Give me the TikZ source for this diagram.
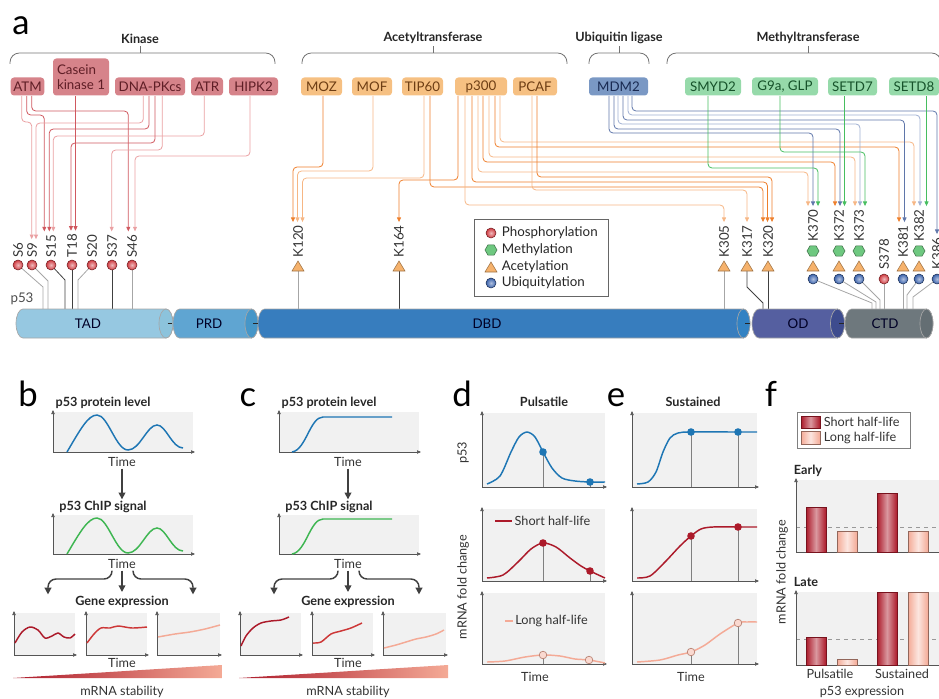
\documentclass[tikz,border=0pt]{standalone}
\usepackage{fontspec}
\setmainfont{Lato}
\usetikzlibrary{arrows.meta}

\definecolor{kinfill}{RGB}{214,131,138}
\definecolor{kintext}{RGB}{95,30,38}
\definecolor{kinline}{RGB}{208,88,95}
\definecolor{kinpale}{RGB}{234,160,162}
\definecolor{acefill}{RGB}{246,192,130}
\definecolor{acetext}{RGB}{110,62,20}
\definecolor{aceline}{RGB}{238,126,42}
\definecolor{acepale}{RGB}{246,182,132}
\definecolor{ubifill}{RGB}{122,152,196}
\definecolor{ubitext}{RGB}{25,42,82}
\definecolor{ubiline}{RGB}{95,118,170}
\definecolor{ubipale}{RGB}{160,176,210}
\definecolor{metfill}{RGB}{150,218,170}
\definecolor{mettext}{RGB}{22,82,42}
\definecolor{metline}{RGB}{70,190,95}
\definecolor{phos}{RGB}{208,58,64}
\definecolor{ubiq}{RGB}{58,98,172}
\definecolor{methyl}{RGB}{110,200,128}
\definecolor{acetyl}{RGB}{246,178,108}
\definecolor{plotbg}{RGB}{241,241,241}
\definecolor{pblue}{RGB}{30,118,180}
\definecolor{pgreen}{RGB}{62,182,82}
\definecolor{shortred}{RGB}{172,26,42}
\definecolor{midred}{RGB}{205,55,55}
\definecolor{longpink}{RGB}{244,170,150}
\definecolor{axisgray}{RGB}{85,85,85}
% protein domains: 1 edge, 2 middle, 3 cap
\definecolor{tad1}{RGB}{150,200,225}\definecolor{tad2}{RGB}{208,234,246}\definecolor{tad3}{RGB}{140,195,220}
\definecolor{prd1}{RGB}{95,165,210}\definecolor{prd2}{RGB}{165,212,236}\definecolor{prd3}{RGB}{70,150,200}
\definecolor{dbd1}{RGB}{55,125,190}\definecolor{dbd2}{RGB}{128,182,226}\definecolor{dbd3}{RGB}{50,130,195}
\definecolor{od1}{RGB}{85,95,160}\definecolor{od2}{RGB}{145,155,208}\definecolor{od3}{RGB}{62,76,142}
\definecolor{ctd1}{RGB}{110,120,125}\definecolor{ctd2}{RGB}{172,180,184}\definecolor{ctd3}{RGB}{100,110,115}

\tikzset{every picture/.style={line width=0.75pt}}
\tikzset{
  txt/.style={font=\fontsize{10}{12}\selectfont, inner sep=1pt, text=black!85},
  small/.style={font=\fontsize{9.5}{11}\selectfont, inner sep=1pt, text=black!80},
  ttl/.style={font=\bfseries\fontsize{9.5}{11}\selectfont, inner sep=1pt, text=black!85},
  grp/.style={font=\bfseries\fontsize{9.5}{11}\selectfont, inner sep=1.5pt, text=black!85, above},
  plab/.style={font=\fontsize{26}{28}\selectfont, inner sep=0pt, anchor=base},
  enz/.style={rounded corners=2.5pt, minimum height=13.5pt, inner xsep=2pt, inner ysep=1pt, anchor=south, font=\fontsize{10}{11}\selectfont},
  kinbox/.style={enz, fill=kinfill, text=kintext},
  acebox/.style={enz, fill=acefill, text=acetext},
  ubibox/.style={enz, fill=ubifill, text=ubitext},
  metbox/.style={enz, fill=metfill, text=mettext},
  brk/.style={draw=black!55, line width=0.6pt, rounded corners=7},
  site/.style={rotate=90, anchor=west, inner sep=2.2pt, font=\fontsize{10}{11}\selectfont, text=black!80},
  dom/.style={font=\fontsize{10}{11}\selectfont, text=black!75!blue!60!black},
  route/.style={line width=0.6pt, rounded corners=3, -{Triangle[length=3.5pt,width=3pt]}},
  kinr/.style={route, draw=kinline}, kinpr/.style={route, draw=kinpale},
  acer/.style={route, draw=aceline}, acepr/.style={route, draw=acepale},
  ubir/.style={route, draw=ubiline}, ubipr/.style={route, draw=ubipale},
  metr/.style={route, draw=metline},
  stem/.style={line width=0.6pt, draw=black!75}, stempale/.style={line width=0.6pt, draw=black!35},
  phosdot/.style={inner color=phos!35!white, outer color=phos, draw=phos!55!black, line width=0.4pt},
  ubidot/.style={inner color=ubiq!40!white, outer color=ubiq, draw=ubiq!50!black, line width=0.4pt},
  methex/.style={fill=methyl, draw=methyl!55!black, line width=0.4pt},
  acetri/.style={fill=acetyl, draw=acetyl!65!black, line width=0.4pt},
  axis/.style={draw=axisgray, line width=0.5pt, -{Triangle[length=3pt,width=2.5pt]}},
  flow/.style={draw=black!75, line width=1.1pt, rounded corners=6, -{Triangle[length=5pt,width=5pt]}},
  pcurve/.style={line width=1.1pt},
  dropln/.style={draw=black!50, line width=0.5pt},
  darkbar/.style={left color=shortred, right color=shortred, middle color=shortred!45!white, draw=shortred!70!black, line width=0.4pt},
  lightbar/.style={left color=longpink, right color=longpink, middle color=longpink!30!white, draw=longpink!60!black, line width=0.4pt}
}

\begin{document}
\begin{tikzpicture}[x=0.75pt,y=0.75pt,yscale=-1,xscale=1]
\useasboundingbox (0,0) rectangle (939,699);

% ---------------- panel a ----------------
\node[plab] (pa) at (21,35) {a};

% group brackets
\draw[brk] (10,64) |- (275,53) -- (275,64);
\draw[brk] (140,53) -- (140,46) node[grp] (tkin) {Kinase};
\draw[brk] (302,64) |- (567,53) -- (567,64);
\draw[brk] (433,53) -- (433,46) node[grp] (tace) {Acetyltransferase};
\draw[brk] (589,64) |- (649,53) -- (649,64);
\draw[brk] (619,53) -- (619,46) node[grp] (tubi) {Ubiquitin ligase};
\draw[brk] (667,64) |- (941,53) -- (941,64);
\draw[brk] (808,53) -- (808,46) node[grp] (tmet) {Methyltransferase};

% enzymes
\node[kinbox, minimum width=24.75pt] (atm) at (27.5,96) {ATM};
\node[kinbox, minimum width=42pt, minimum height=27.75pt, align=left] (ck1) at (81,96) {Casein\\kinase 1};
\node[kinbox, minimum width=52.5pt] (dnapk) at (150,96) {DNA-PKcs};
\node[kinbox, minimum width=24pt] (atr) at (207,96) {ATR};
\node[kinbox, minimum width=36.75pt] (hipk) at (253.5,96) {HIPK2};
\node[acebox, minimum width=30.75pt] (moz) at (321.5,96) {MOZ};
\node[acebox, minimum width=30pt] (mof) at (372,96) {MOF};
\node[acebox, minimum width=30.75pt] (tip) at (422.5,96) {TIP60};
\node[acebox, minimum width=39pt] (p300) at (481,96) {p300};
\node[acebox, minimum width=33pt] (pcaf) at (535,96) {PCAF};
\node[ubibox, minimum width=44.25pt] (mdm) at (618.5,96) {MDM2};
\node[metbox, minimum width=42pt] (smyd) at (713,96) {SMYD2};
\node[metbox, minimum width=49.5pt] (g9a) at (785,96) {G9a, GLP};
\node[metbox, minimum width=36.75pt] (setdseven) at (852.5,96) {SETD7};
\node[metbox, minimum width=37.5pt] (setdeight) at (914,96) {SETD8};

% residue labels
\foreach \nm/\x/\t in {s6/18/S6, s9/32/S9, s15/51/S15, t18/72/T18, s20/92/S20, s37/112/S37, s46/132/S46,
    k120/298/K120, k164/399/K164, k305/724/K305, k317/747/K317, k320/768/K320, k381/903/K381}
  \node[site] (l\nm) at (\x,261) {\t};
\foreach \nm/\x/\t in {k370/813/K370, k372/839/K372, k373/859/K373, k382/919/K382}
  \node[site] (l\nm) at (\x,245) {\t};
\foreach \nm/\x/\t in {s378/884/S378, k386/937/K386}
  \node[site] (l\nm) at (\x,273) {\t};

% kinase routes
\draw[kinpr] (21.7,0 |- atm.south) |- (31.7,122) -- (31.7,0 |- ls9.east);
\draw[kinr] (26.7,0 |- atm.south) |- (44.3,115) -- (44.3,0 |- ls15.east);
\draw[kinr] (31.7,0 |- atm.south) |- (128.3,111) -- (128.3,0 |- ls46.east);
\draw[kinpr] (143.3,0 |- dnapk.south) |- (36,123) -- (36,0 |- ls9.east);
\draw[kinr] (149,0 |- dnapk.south) |- (49.3,129) -- (49.3,0 |- ls15.east);
\draw[kinpr] (204.3,0 |- atr.south) |- (53.3,136) -- (53.3,0 |- ls15.east);
\draw[kinr] (155,0 |- dnapk.south) |- (71,143) -- (71,0 |- lt18.east);
\draw[kinr] (75.5,0 |- ck1.south) -- (75.5,0 |- lt18.east);
\draw[kinpr] (162.3,0 |- dnapk.south) |- (111.7,150) -- (111.7,0 |- ls37.east);
\draw[kinpr] (250,0 |- hipk.south) |- (135,156) -- (135,0 |- ls46.east);

% acetyltransferase routes
\draw[acer] (323,0 |- moz.south) |- (293,167) -- (293,0 |- lk120.east);
\draw[acepr] (373,0 |- mof.south) |- (297.5,171) -- (297.5,0 |- lk120.east);
\draw[acepr] (424,0 |- tip.south) |- (302.5,178) -- (302.5,0 |- lk120.east);
\draw[acer] (458,0 |- p300.south) |- (399,180) -- (399,0 |- lk164.east);
\draw[acer] (430,0 |- tip.south) |- (763,187) -- (763,0 |- lk320.east);
\draw[acepr] (465,0 |- p300.south) |- (724,205) -- (724,0 |- lk305.east);
\draw[acer] (472,0 |- p300.south) |- (767.5,182) -- (767.5,0 |- lk320.east);
\draw[acepr] (478,0 |- p300.south) |- (808,172) -- (808,0 |- lk370.east);
\draw[acer] (483,0 |- p300.south) |- (835,162) -- (835,0 |- lk372.east);
\draw[acepr] (489,0 |- p300.south) |- (855,157) -- (855,0 |- lk373.east);
\draw[acer] (495,0 |- p300.south) |- (899,147) -- (899,0 |- lk381.east);
\draw[acepr] (500,0 |- p300.south) |- (914,142) -- (914,0 |- lk382.east);
\draw[acepr] (532,0 |- pcaf.south) |- (747,190) -- (747,0 |- lk317.east);
\draw[acer] (537,0 |- pcaf.south) |- (772,177) -- (772,0 |- lk320.east);

% ubiquitin ligase routes
\draw[ubir] (609,0 |- mdm.south) |- (813,133) -- (813,0 |- lk370.east);
\draw[ubir] (614,0 |- mdm.south) |- (840,129) -- (840,0 |- lk372.east);
\draw[ubipr] (618,0 |- mdm.south) |- (860,124) -- (860,0 |- lk373.east);
\draw[ubir] (623,0 |- mdm.south) |- (904.5,120) -- (904.5,0 |- lk381.east);
\draw[ubipr] (628,0 |- mdm.south) |- (920,115) -- (920,0 |- lk382.east);
\draw[ubir] (632,0 |- mdm.south) |- (937,111) -- (937,0 |- lk386.east);

% methyltransferase routes
\draw[metr] (708,0 |- smyd.south) |- (818,168) -- (818,0 |- lk370.east);
\draw[metr] (780,0 |- g9a.south) |- (865,152) -- (865,0 |- lk373.east);
\draw[metr] (844.5,0 |- setdseven.south) -- (844.5,0 |- lk372.east);
\draw[metr] (926.5,0 |- setdeight.south) -- (926.5,0 |- lk382.east);

% stems down to the protein
\draw[stempale] (18,265) -- (43,287) -- (43,309);
\draw[stempale] (32,265) -- (48,281) -- (48,309);
\draw[stem] (51,265) -- (65,280) -- (65,309);
\draw[stem] (72,265) -- (72,309);
\draw[stempale] (92,265) -- (78,280) -- (78,309);
\draw[stem] (112,265) -- (112,309);
\draw[stempale] (132,265) -- (132,309);
\draw[stempale] (298,266) -- (298,309);
\draw[stem] (399,266) -- (399,309);
\draw[stempale] (724,266) -- (724,309);
\draw[stem] (747,266) -- (747,287) -- (763,303) -- (763,309);
\draw[stem] (768,266) -- (768,309);
\draw[stempale] (813,279) -- (872,303) -- (872,309);
\draw[stempale] (839,279) -- (876,302) -- (876,309);
\draw[stempale] (859,279) -- (880,300) -- (880,309);
\draw[stempale] (884,279) -- (884,309);
\draw[stempale] (903,279) -- (903,309);
\draw[stempale] (919,279) -- (907,295) -- (907,309);
\draw[stempale] (937,279) -- (913,297) -- (913,309);

% modification marks
\foreach \x in {18,32,51,72,92,112,132} \shadedraw[phosdot] (\x,265) circle (5);
\shadedraw[phosdot] (884,279) circle (5);
\foreach \x in {813,839,859,903,919,937} \shadedraw[ubidot] (\x,279) circle (5);
\foreach \x in {298,399,724,747,768,813,839,859,903,919}
  \filldraw[acetri] (\x,261) -- (\x+6,271) -- (\x-6,271) -- cycle;
\foreach \x in {813,839,859,919}
  \filldraw[methex] (\x+6,251) -- (\x+3,256.2) -- (\x-3,256.2) -- (\x-6,251) -- (\x-3,245.8) -- (\x+3,245.8) -- cycle;

% p53 domains
\node[txt, text=black!70] (p53lab) at (22,299) {p53};
\foreach \xl/\xr/\rx/\dm in {16/166/7/tad, 173/251.5/6.5/prd, 258/743.5/6.5/dbd, 752/837.5/7/od, 845/926.5/6.5/ctd}{
  \shadedraw[top color=\dm1, middle color=\dm2, bottom color=\dm1, draw=black!35, line width=0.5pt]
    (\xl+\rx,309) -- (\xr,309) arc[start angle=-90, end angle=90, x radius=\rx, y radius=14.5]
    -- (\xl+\rx,338) arc[start angle=90, end angle=270, x radius=\rx, y radius=14.5] -- cycle;
  \filldraw[fill=\dm3, draw=black!35, line width=0.5pt] (\xr,323.5) ellipse [x radius=\rx, y radius=14.5];
}
\foreach \x in {166,251.5,743.5,837.5} \draw[line width=1.1pt, black!85] (\x+1.5,323.5) -- (\x+6,323.5);
\node[dom] (tad) at (88,324) {TAD};
\node[dom] (prd) at (209,324) {PRD};
\node[dom] (dbd) at (487,324) {DBD};
\node[dom] (od) at (798,324) {OD};
\node[dom] (ctd) at (885,324) {CTD};

% legend
\draw[black!60, line width=0.6pt, fill=white] (474,219) rectangle (608,296);
\shadedraw[phosdot] (491,233) circle (5);
\filldraw[methex] (497,250) -- (494,255.2) -- (488,255.2) -- (485,250) -- (488,244.8) -- (494,244.8) -- cycle;
\filldraw[acetri] (491,262) -- (497,272) -- (485,272) -- cycle;
\shadedraw[ubidot] (491,283) circle (5);
\node[txt, anchor=west] (lgphos) at (500,233) {Phosphorylation};
\node[txt, anchor=west] (lgmeth) at (500,250) {Methylation};
\node[txt, anchor=west] (lgacet) at (500,267) {Acetylation};
\node[txt, anchor=west] (lgubiq) at (500,283) {Ubiquitylation};

% ---------------- panels b and c ----------------
\node[plab] (pb) at (28,406) {b};
\node[plab] (pc) at (248,406) {c};
\foreach \sx/\pn in {0/b,226/c}{
\begin{scope}[shift={(\sx,0)}]
  \foreach \tp/\bt in {412/452,515/554}{
    \fill[plotbg] (53,\tp) rectangle (193,\bt);
    \draw[axis] (53,\bt) -- (53,\tp-2);
    \draw[axis] (53,\bt) -- (195,\bt);
  }
  \node[ttl] (lvl\pn) at (103,403) {p53 protein level};
  \node[small] (ta\pn) at (122,462) {Time};
  \node[ttl] (chip\pn) at (103,507) {p53 ChIP signal};
  \node[small] (tb\pn) at (122,564) {Time};
  \node[ttl] (gene\pn) at (122,602) {Gene expression};
  \draw[flow] (ta\pn.south) -- (ta\pn.south |- chip\pn.north);
  \draw[flow] (112,0 |- tb\pn.south) |- (48,579) -- (48,0 |- gene\pn.north);
  \draw[flow] (122,0 |- tb\pn.south) -- (122,592);
  \draw[flow] (133,0 |- tb\pn.south) |- (193,579) -- (193,0 |- gene\pn.north);
  \foreach \l/\r in {14/75,86/147,157/220}{
    \fill[plotbg] (\l,613) rectangle (\r,655);
    \draw[axis] (\l,655) -- (\l,611);
    \draw[axis] (\l,655) -- (\r+2,655);
  }
  \node[small] (tc\pn) at (122,663) {Time};
  \shade[left color=shortred, right color=longpink] (13,678) -- (222,665) -- (222,678) -- cycle;
  \node[small] (stab\pn) at (122,692) {mRNA stability};
\end{scope}}

% pulses (b)
\draw[pcurve, pblue] (67,452) .. controls (80,430) and (88,415) .. (97,415) .. controls (108,415) and (116,450) .. (128,450)
  .. controls (140,450) and (147,425) .. (157,425) .. controls (166,425) and (172,448) .. (183,448);
\draw[pcurve, pgreen] (67,554) .. controls (80,532) and (88,518) .. (97,518) .. controls (108,518) and (116,553) .. (128,553)
  .. controls (140,553) and (147,528) .. (157,528) .. controls (166,528) and (172,551) .. (183,551);
\draw[pcurve, shortred] plot[smooth] coordinates {(15,643) (22,632) (30,627) (38,630) (45,638) (52,636) (58,633) (64,637) (70,638) (75,634)};
\draw[pcurve, midred] plot[smooth] coordinates {(87,643) (94,634) (101,628) (110,628) (118,626) (132,628) (147,627)};
\draw[pcurve, longpink] plot[smooth] coordinates {(158,637) (175,634) (190,632) (205,629) (220,625)};

% sustained (c)
\begin{scope}[shift={(226,0)}]
\draw[pcurve, pblue] (66,452) .. controls (80,450) and (84,417) .. (97,417) -- (166,417);
\draw[pcurve, pgreen] (66,554) .. controls (80,552) and (84,519) .. (97,519) -- (166,519);
\draw[pcurve, shortred] plot[smooth] coordinates {(15,646) (20,636) (27,628) (35,623) (45,621) (55,620) (63,617)};
\draw[pcurve, midred] plot[smooth] coordinates {(87,643) (95,642) (105,634) (115,631) (125,628) (136,623)};
\draw[pcurve, longpink] plot[smooth] coordinates {(158,648) (170,645) (180,642) (190,639) (200,637) (210,634) (218,630)};
\end{scope}

% ---------------- panels d and e ----------------
\node[plab] (pd) at (462,406) {d};
\node[plab] (pe) at (616,406) {e};
\node[ttl] (puls) at (544,402) {Pulsatile};
\node[ttl] (sust) at (693,402) {Sustained};
\foreach \l/\r in {482/605,632/757}{
  \foreach \tp/\bt in {413/487,509/581,593/664}{
    \fill[plotbg] (\l,\tp) rectangle (\r,\bt);
    \draw[axis] (\l,\bt) -- (\l,\tp-2);
    \draw[axis] (\l,\bt) -- (\r+2,\bt);
  }
}
\node[small, rotate=90] (yp53) at (463,453) {p53};
\node[small, rotate=90] (yfold) at (463,587) {mRNA fold change};
\node[small] (tid) at (535,677) {Time};
\node[small] (tie) at (691,677) {Time};
\draw[shortred, line width=2pt] (495,521) -- (512,521) node[small, anchor=west] (lshort) {Short half-life};
\draw[longpink, line width=1.5pt] (505,621) -- (513,621) node[small, anchor=west] (llong) {Long half-life};

\foreach \x/\y/\b in {543/452/487, 590/482/487, 543/543/581, 590/571/581, 543/655/664, 589/660/664,
    691/432/487, 738/432/487, 691/536/581, 738/527/581, 691/652/664, 738/623/664}
  \draw[dropln] (\x,\y) -- (\x,\b);

\draw[pcurve, pblue] plot[smooth] coordinates {(487,484) (500,476) (511,452) (519,437) (527,432) (535,437) (543,452) (552,468) (562,478) (575,481) (590,482) (605,482)};
\draw[pcurve, shortred] plot[smooth] coordinates {(487,578) (503,575) (518,562) (531,549) (543,543) (556,547) (570,558) (581,566) (590,571) (605,578)};
\draw[pcurve, longpink] plot[smooth] coordinates {(487,662) (505,661) (525,657) (543,655) (560,656) (575,659) (589,660) (605,663)};
\draw[pcurve, pblue] plot[smooth] coordinates {(637,484) (648,482) (656,472) (663,452) (670,438) (678,433) (691,432) (738,432) (757,432)};
\draw[pcurve, shortred] plot[smooth] coordinates {(637,578) (650,576) (665,562) (680,546) (691,536) (701,529) (713,527) (738,527) (757,527)};
\draw[pcurve, longpink] plot[smooth] coordinates {(637,662) (660,660) (678,655) (691,652) (705,645) (720,634) (738,623) (747,622) (757,622)};

\foreach \x/\y in {543/452, 590/482, 691/432, 738/432} \fill[pblue] (\x,\y) circle (3.8);
\foreach \x/\y in {543/543, 590/571, 691/536, 738/527} \fill[shortred] (\x,\y) circle (3.8);
\foreach \x/\y in {543/655, 589/660, 691/652, 738/623} \filldraw[fill=longpink!45!white, draw=longpink!75!black, line width=0.5pt] (\x,\y) circle (3.8);

% ---------------- panel f ----------------
\node[plab] (pf) at (771,406) {f};
\draw[black!50, line width=0.6pt] (797,412) rectangle (910,448);
\shadedraw[darkbar] (801,416) rectangle (820,428);
\shadedraw[lightbar] (801,431) rectangle (820,444);
\node[small, anchor=west] (fshort) at (822,422) {Short half-life};
\node[small, anchor=west] (flong) at (822,438) {Long half-life};

\node[ttl, anchor=west] (early) at (792,471) {Early};
\node[ttl, anchor=west] (late) at (792,582) {Late};
\foreach \tp/\bt/\dl in {480/552/527, 592/665/639}{
  \fill[plotbg] (796,\tp) rectangle (945,\bt);
  \draw[dashed, black!40, line width=0.5pt] (796,\dl) -- (945,\dl);
  \draw[axis] (796,\bt) -- (796,\tp-2);
  \draw[axis] (796,\bt) -- (945,\bt);
}
\shadedraw[darkbar] (806,507) rectangle (826,552);
\shadedraw[lightbar] (837,531) rectangle (857,552);
\shadedraw[darkbar] (877,493) rectangle (897,552);
\shadedraw[lightbar] (908,531) rectangle (928,552);
\shadedraw[darkbar] (806,637) rectangle (826,665);
\shadedraw[lightbar] (837,659) rectangle (857,665);
\shadedraw[darkbar] (877,592) rectangle (897,665);
\shadedraw[lightbar] (908,592) rectangle (928,665);
\node[small] (fpul) at (830,674) {Pulsatile};
\node[small] (fsus) at (902,674) {Sustained};
\node[small] (fexp) at (862,692) {p53 expression};
\node[small, rotate=90] (ffold) at (782,572) {mRNA fold change};

\end{tikzpicture}
\end{document}
